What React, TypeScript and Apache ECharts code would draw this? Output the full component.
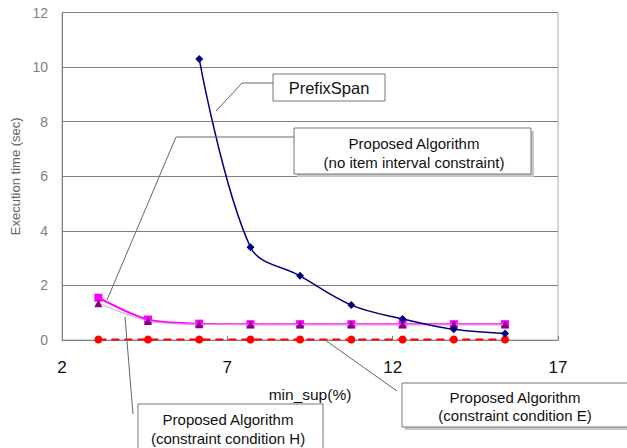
import React, { useEffect, useRef } from "react";
import * as echarts from "echarts";

const minSup = [3.1, 4.6, 6.15, 7.7, 9.2, 10.75, 12.3, 13.85, 15.4];
const prefixSpan = [null, null, 10.3, 3.4, 2.35, 1.28, 0.77, 0.39, 0.24];
const noInterval = [1.55, 0.75, 0.6, 0.58, 0.58, 0.58, 0.58, 0.58, 0.58];
const condH = [1.35, 0.7, 0.58, 0.57, 0.57, 0.57, 0.57, 0.57, 0.57];
const condE = [0.02, 0.02, 0.02, 0.02, 0.02, 0.02, 0.02, 0.02, 0.02];
const xTicks = [2, 7, 12, 17];
const yTicks = [0, 2, 4, 6, 8, 10, 12];

const toPairs = (vals: (number | null)[]) =>
  minSup.map((x, i) => [x, vals[i]]).filter((p) => p[1] !== null);

const FONT = "Liberation Sans, Arial, sans-serif";
const GRAY = "#808080";

export default function App() {
  const ref = useRef<HTMLDivElement>(null);
  useEffect(() => {
    const chart = echarts.init(ref.current!, null, { renderer: "svg" });
    const box = (x: number, y: number, w: number, h: number, lines: string[], cx: number, ys: number[], fs: number, shadow = false) => {
      const els: any[] = [];
      if (shadow) {
        els.push({ type: "rect", shape: { x: x + 3, y: y + 3, width: w, height: h }, style: { fill: "#c8c8c8" }, z: 10 });
      }
      els.push({ type: "rect", shape: { x, y, width: w, height: h }, style: { fill: "#fff", stroke: "#777", lineWidth: 1 }, z: 11 });
      lines.forEach((t, i) => {
        els.push({ type: "text", x: cx, y: ys[i], style: { text: t, fill: "#111", font: `${fs}px ${FONT}`, align: "center", verticalAlign: "middle" }, z: 12 });
      });
      return els;
    };
    const leader = (pts: number[][]) => ({ type: "polyline", shape: { points: pts }, style: { stroke: "#666", lineWidth: 1, fill: null }, z: 9 });

    chart.setOption({
      animation: false,
      backgroundColor: "#fff",
      grid: { left: 62, right: 69, top: 12.5, bottom: 108, show: true, borderColor: "#b0b0b0", borderWidth: 1, backgroundColor: "#fff" },
      xAxis: {
        type: "value", min: 2, max: 17, interval: 5,
        name: "min_sup(%)", nameLocation: "middle", nameGap: 46,
        nameTextStyle: { fontFamily: FONT, fontSize: 15.5, color: "#111" },
        axisLine: { show: true, lineStyle: { color: GRAY } },
        axisTick: { show: true, inside: true, length: 4, lineStyle: { color: GRAY } },
        axisLabel: { fontFamily: FONT, fontSize: 17, color: "#111", margin: 19, formatter: (v: number) => (xTicks.includes(v) ? String(v) : "") },
        splitLine: { show: false },
      },
      yAxis: {
        type: "value", min: 0, max: 12, interval: 2,
        name: "Execution time (sec)", nameLocation: "middle", nameGap: 36,
        nameTextStyle: { fontFamily: FONT, fontSize: 13, color: "#666" },
        axisLine: { show: true, lineStyle: { color: GRAY } },
        axisTick: { show: false },
        axisLabel: { fontFamily: FONT, fontSize: 14, color: GRAY, margin: 14, formatter: (v: number) => (yTicks.includes(v) ? String(v) : "") },
        splitLine: { show: true, lineStyle: { color: GRAY, width: 1 } },
      },
      series: [
        {
          name: "constraint condition E", type: "line", data: toPairs(condE),
          symbol: "circle", symbolSize: 8, itemStyle: { color: "#ff0000" },
          lineStyle: { color: "#ff0000", width: 2, type: [8, 5] }, z: 3,
        },
        {
          name: "no item interval constraint", type: "line", data: toPairs(noInterval), smooth: 0.3,
          symbol: "rect", symbolSize: 8, itemStyle: { color: "#ff00ff" },
          lineStyle: { color: "#ff00ff", width: 2 }, z: 4,
        },
        {
          name: "constraint condition H", type: "line", data: toPairs(condH), smooth: 0.3,
          symbol: "triangle", symbolSize: 8, itemStyle: { color: "#800080" },
          lineStyle: { color: "#d9a0d9", width: 1 }, z: 5,
        },
        {
          name: "PrefixSpan", type: "line", data: toPairs(prefixSpan), smooth: 0.35,
          symbol: "diamond", symbolSize: 8, itemStyle: { color: "#000080" },
          lineStyle: { color: "#000080", width: 1.5 }, z: 6,
        },
      ],
      graphic: [
        leader([[216, 111], [242, 83], [267, 83], [273, 83]]),
        ...box(273, 74, 112, 27, ["PrefixSpan"], 329, [88], 16.5),
        leader([[107, 300], [176, 137], [294, 137]]),
        ...box(294, 128, 237, 46, ["Proposed Algorithm", "(no item interval constraint)"], 414, [143, 162], 15, true),
        leader([[125, 317], [133, 414]]),
        ...box(138, 404, 185, 60, ["Proposed Algorithm", "(constraint condition H)"], 228, [419, 438], 15),
        leader([[325, 340], [397, 391]]),
        ...box(402, 383, 240, 44, ["Proposed Algorithm", "(constraint condition E)"], 515, [397, 415], 15, true),
      ],
    });
    return () => chart.dispose();
  }, []);
  return <div ref={ref} style={{ position: "fixed", left: 0, top: 0, width: 627, height: 448 }} />;
}
